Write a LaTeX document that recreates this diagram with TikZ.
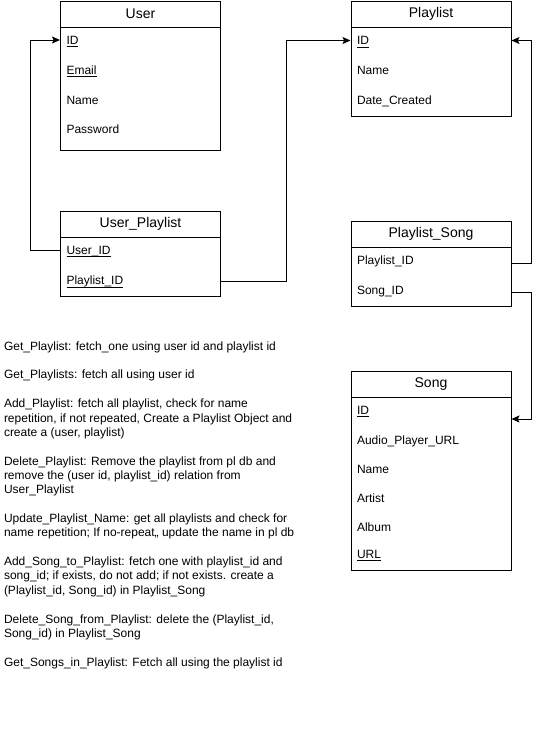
\documentclass[tikz,border=0pt]{standalone}
\usepackage{fontspec}
\setmainfont{Liberation Sans}
\usetikzlibrary{arrows.meta}
\newdimen\pxu
\pxu=0.75pt
% key fields: rule set just under the baseline
\newcommand\keyfield[1]{\underline{\smash{#1}}}
\begin{document}
\begin{tikzpicture}[x=0.75pt,y=-0.75pt,
  line width=0.75pt,
  hdr/.style={draw, anchor=north west, minimum width={160*\pxu}, minimum height={26*\pxu},
    inner sep=0pt, font=\fontsize{10.5}{12.6}\selectfont},
  tbody/.style={draw, anchor=north west, minimum width={160*\pxu}, inner sep=0pt},
  row/.style={anchor=west, minimum width={160*\pxu}, minimum height={20*\pxu},
    text width={148*\pxu}, inner xsep={6*\pxu}, inner ysep=0pt, align=left,
    text height=6.6pt, text depth=0pt,
    font=\fontsize{9}{10.8}\selectfont},
  link/.style={draw, line width=0.75pt},
  arr/.style={link, -{Stealth[length=6pt,width=5.25pt,inset=1.2pt]}},
  notes/.style={anchor=north west, inner sep=0pt, align=left,
    font=\fontsize{9}{10.77}\selectfont}
]
\useasboundingbox (0,0) rectangle (539,747);
\fill[white] (0,0) rectangle (539,747);

% ---- User ----
\node[hdr] (user-h) at (60,0.7) {User};
\node[tbody, minimum height={123.3*\pxu}] (user-b) at (60,26.7) {};
\node[row] (user-id) at (60,40) {\keyfield{ID}};
\node[row] (user-email) at (60,70) {\keyfield{Email}};
\node[row] (user-name) at (60,100) {Name};
\node[row] (user-pw) at (60,129.5) {Password};

% ---- User_Playlist ----
\node[hdr] (up-h) at (60,210.7) {User\_Playlist};
\node[tbody, minimum height={59.3*\pxu}] (up-b) at (60,236.7) {};
\node[row] (up-uid) at (60,250) {\keyfield{User\_ID}};
\node[row] (up-pid) at (60,280.5) {\keyfield{Playlist\_ID}};

% ---- Playlist ----
\node[hdr] (pl-h) at (350.5,0.7) {Playlist};
\node[tbody, minimum height={89.3*\pxu}] (pl-b) at (350.5,26.7) {};
\node[row] (pl-id) at (350.5,40.5) {\keyfield{ID}};
\node[row] (pl-name) at (350.5,70) {Name};
\node[row] (pl-date) at (350.5,100) {Date\_Created};

% ---- Playlist_Song ----
\node[hdr] (ps-h) at (350.5,220.7) {Playlist\_Song};
\node[tbody, minimum height={59*\pxu}] (ps-b) at (350.5,246.7) {};
\node[row] (ps-pid) at (350.5,260) {Playlist\_ID};
\node[row] (ps-sid) at (350.5,290) {Song\_ID};

% ---- Song ----
\node[hdr] (song-h) at (350.5,370.7) {Song};
\node[tbody, minimum height={173.8*\pxu}] (song-b) at (350.5,396.5) {};
\node[row] (song-id) at (350.5,410) {\keyfield{ID}};
\node[row] (song-audio) at (350.5,440) {Audio\_Player\_URL};
\node[row] (song-name) at (350.5,469) {Name};
\node[row] (song-artist) at (350.5,498) {Artist};
\node[row] (song-album) at (350.5,527) {Album};
\node[row] (song-url) at (350.5,554) {\keyfield{URL}};

% ---- relations ----
\draw[arr] (up-uid.west) -- ++(-30,0) |- (user-id.west);
\draw[arr] ([yshift=-0.75pt]up-pid.east) -- ++(65,0) |- (pl-id.west);
\draw[arr] ([yshift=-2.25pt]ps-pid.east) -- ++(20,0) |- (pl-id.east);
\draw[arr] ([yshift=-1.5pt]ps-sid.east) -- ++(20,0) |- ([yshift=-6.75pt]song-id.east);

% ---- operation notes ----
\node[notes] (ops) at (3.5,341) {%
Get\_Playlist: fetch\_one using user id and playlist id\\[10.77pt]
Get\_Playlists: fetch all using user id\\[10.77pt]
Add\_Playlist: fetch all playlist, check for name\\
repetition, if not repeated, Create a Playlist Object and\\
create a (user, playlist)\\[10.77pt]
Delete\_Playlist: Remove the playlist from pl db and\\
remove the (user id, playlist\_id) relation from\\
User\_Playlist\\[10.77pt]
Update\_Playlist\_Name: get all playlists and check for\\
name repetition; If no-repeat,, update the name in pl db\\[10.77pt]
Add\_Song\_to\_Playlist: fetch one with playlist\_id and\\
song\_id; if exists, do not add; if not exists. create a\\
(Playlist\_id, Song\_id) in Playlist\_Song\\[10.77pt]
Delete\_Song\_from\_Playlist: delete the (Playlist\_id,\\
Song\_id) in Playlist\_Song\\[10.77pt]
Get\_Songs\_in\_Playlist: Fetch all using the playlist id};
\end{tikzpicture}
\end{document}
